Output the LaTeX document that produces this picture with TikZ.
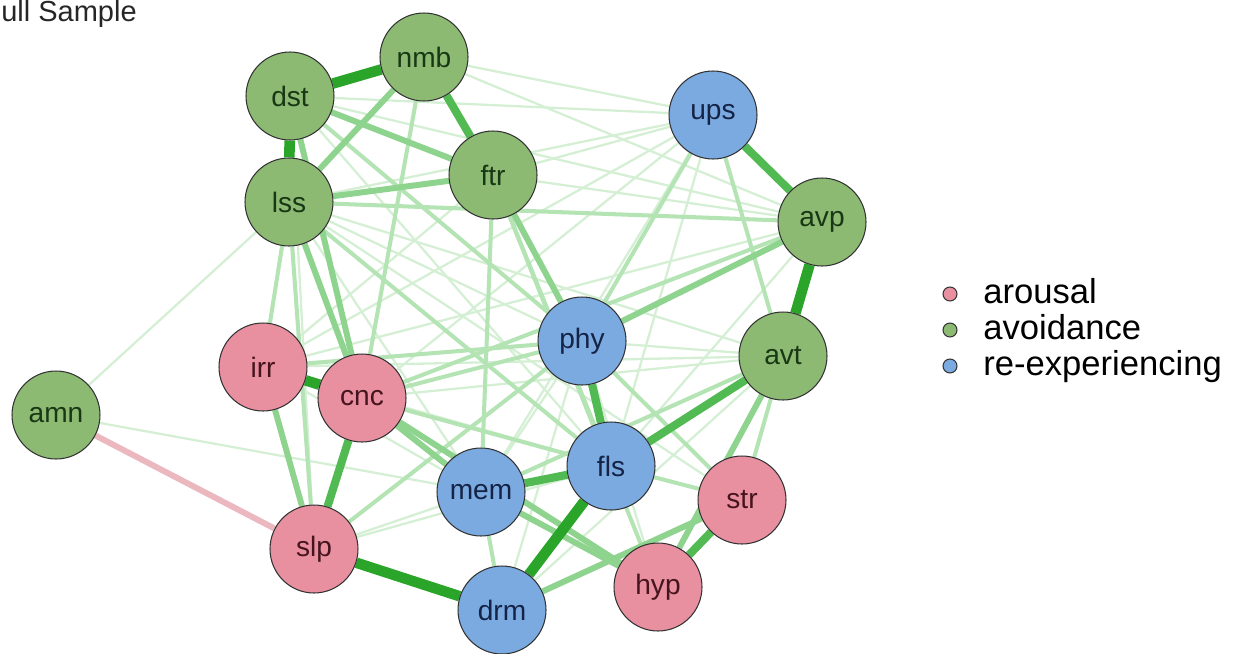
\documentclass[tikz,border=0pt]{standalone}
\usepackage{fontspec}
\setmainfont{Liberation Sans}
\usepackage{xcolor}
\usepackage{tikz}
\usetikzlibrary{positioning,backgrounds}

\definecolor{arofill}{RGB}{232,144,160}
\definecolor{avofill}{RGB}{140,186,115}
\definecolor{rexfill}{RGB}{122,170,224}
\definecolor{arotext}{RGB}{70,20,30}
\definecolor{avotext}{RGB}{25,55,20}
\definecolor{rextext}{RGB}{20,35,70}
\definecolor{edgeA}{RGB}{42,165,42}
\definecolor{edgeB}{RGB}{82,186,82}
\definecolor{edgeC}{RGB}{142,211,142}
\definecolor{edgeD}{RGB}{180,227,180}
\definecolor{edgeE}{RGB}{212,239,212}
\definecolor{negedge}{RGB}{236,184,192}

\begin{document}
\begin{tikzpicture}[x=0.02cm, y=-0.02cm,
    sym/.style={draw=black!80, line width=0.6pt, circle, minimum size=1.76cm, inner sep=0pt, font=\fontsize{16}{18}\selectfont},
    aro/.style={sym, fill=arofill, text=arotext},
    avo/.style={sym, fill=avofill, text=avotext},
    rex/.style={sym, fill=rexfill, text=rextext},
    w1/.style={line width=1.3pt, edgeE},
    w2/.style={line width=2.3pt, edgeD},
    w3/.style={line width=3.4pt, edgeC},
    w4/.style={line width=4.6pt, edgeB},
    w5/.style={line width=6pt, edgeA},
    keydot/.style={draw=black!80, line width=0.6pt, circle, minimum size=0.28cm, inner sep=0pt},
    keytext/.style={anchor=base west, inner sep=0pt, font=\fontsize{19.7}{22}\selectfont}]

    \useasboundingbox (0,0) rectangle (1240,653);

    \node[anchor=base west, inner sep=0pt, font=\fontsize{16.5}{18}\selectfont, text=black!85] (title) at (1,21) {ull Sample};

    % avoidance
    \node[avo] (dst) at (290,96) {dst};
    \node[avo] (nmb) at (424,57) {nmb};
    \node[avo] (lss) at (289,202) {lss};
    \node[avo] (ftr) at (493,175) {ftr};
    \node[avo] (avp) at (822,222) {avp};
    \node[avo] (avt) at (783,356) {avt};
    \node[avo] (amn) at (56,415) {amn};
    % re-experiencing
    \node[rex] (ups) at (713,115) {ups};
    \node[rex] (phy) at (582,341) {phy};
    \node[rex] (mem) at (481,492) {mem};
    \node[rex] (fls) at (611,466) {fls};
    \node[rex] (drm) at (502,610) {drm};
    % arousal
    \node[aro] (irr) at (263,367) {irr};
    \node[aro] (cnc) at (362,398) {cnc};
    \node[aro] (str) at (742,500) {str};
    \node[aro] (slp) at (314,549) {slp};
    \node[aro] (hyp) at (658,587) {hyp};

    \begin{scope}[on background layer]
        \draw[w1] (amn) -- (lss);
        \draw[w1] (amn) -- (mem);
        \draw[w1] (nmb) -- (avp);
        \draw[w1] (nmb) -- (ups);
        \draw[w1] (ftr) -- (ups);
        \draw[w1] (ftr) -- (avp);
        \draw[w1] (lss) -- (ups);
        \draw[w1] (dst) -- (ups);
        \draw[w1] (dst) -- (avp);
        \draw[w1] (irr) -- (ups);
        \draw[w1] (irr) -- (avt);
        \draw[w1] (cnc) -- (avt);
        \draw[w1] (irr) -- (mem);
        \draw[w1] (irr) -- (fls);
        \draw[w1] (slp) -- (fls);
        \draw[w1] (slp) -- (mem);
        \draw[w1] (dst) -- (slp);
        \draw[w1] (lss) -- (mem);
        \draw[w1] (lss) -- (str);
        \draw[w1] (phy) -- (mem);
        \draw[w1] (phy) -- (drm);
        \draw[w1] (phy) -- (hyp);
        \draw[w1] (phy) -- (avt);
        \draw[w1] (avp) -- (fls);
        \draw[w1] (avp) -- (str);
        \draw[w1] (ups) -- (fls);
        \draw[w1] (ups) -- (mem);
        \draw[w1] (ups) -- (cnc);
        \draw[w1] (irr) -- (avp);
        \draw[w1] (irr) -- (ftr);
        \draw[w1] (nmb) -- (phy);
        \draw[w1] (dst) -- (fls);
        \draw[w1] (avt) -- (drm);
        \draw[w1] (lss) -- (phy);
        \draw[w1] (lss) -- (avt);

        \draw[w2] (ups) -- (avt);
        \draw[w2] (ups) -- (phy);
        \draw[w2] (fls) -- (str);
        \draw[w2] (phy) -- (str);
        \draw[w2] (slp) -- (lss);
        \draw[w2] (slp) -- (phy);
        \draw[w2] (ftr) -- (mem);
        \draw[w2] (irr) -- (lss);
        \draw[w2] (irr) -- (phy);
        \draw[w2] (nmb) -- (cnc);
        \draw[w2] (dst) -- (phy);
        \draw[w2] (mem) -- (drm);
        \draw[w2] (lss) -- (fls);
        \draw[w2] (cnc) -- (phy);
        \draw[w2] (cnc) -- (fls);
        \draw[w2] (avt) -- (str);
        \draw[w2] (lss) -- (avp);
        \draw[w2] (ftr) -- (hyp);
        \draw[w2] (mem) -- (avt);
        \draw[w2] (ftr) -- (fls);
        \draw[w2] (cnc) -- (avp);

        \draw[w3] (dst) -- (ftr);
        \draw[w3] (lss) -- (ftr);
        \draw[w3] (lss) -- (cnc);
        \draw[w3] (dst) -- (cnc);
        \draw[w3] (lss) -- (nmb);
        \draw[w3] (phy) -- (avp);
        \draw[w3] (cnc) -- (mem);
        \draw[w3] (cnc) -- (hyp);
        \draw[w3] (mem) -- (hyp);
        \draw[w3] (drm) -- (str);
        \draw[w3] (avt) -- (hyp);
        \draw[w3] (slp) -- (irr);
        \draw[w3] (ftr) -- (phy);
        \draw[w3, negedge] (amn) -- (slp);

        \draw[w4] (hyp) -- (str);
        \draw[w4] (cnc) -- (slp);
        \draw[w4] (fls) -- (avt);
        \draw[w4] (nmb) -- (ftr);
        \draw[w4] (ups) -- (avp);
        \draw[w4] (mem) -- (fls);
        \draw[w4] (phy) -- (fls);

        \draw[w5] (dst) -- (nmb);
        \draw[w5] (dst) -- (lss);
        \draw[w5] (irr) -- (cnc);
        \draw[w5] (avp) -- (avt);
        \draw[w5] (fls) -- (drm);
        \draw[w5] (slp) -- (drm);
    \end{scope}

    \node[keydot, fill=arofill] (key1) at (950,294) {};
    \node[keydot, fill=avofill] (key2) at (950,330) {};
    \node[keydot, fill=rexfill] (key3) at (950,366) {};
    \node[keytext] (lab1) at (983,303) {arousal};
    \node[keytext] (lab2) at (983,339) {avoidance};
    \node[keytext] (lab3) at (983,375) {re-experiencing};
\end{tikzpicture}
\end{document}
